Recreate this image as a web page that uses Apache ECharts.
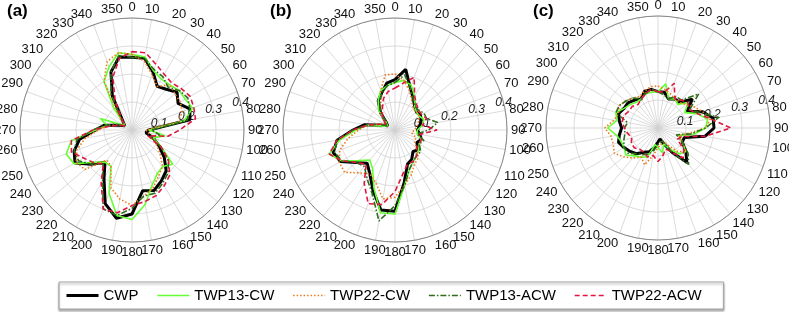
<!DOCTYPE html>
<html>
<head>
<meta charset="utf-8">
<script src="https://cdn.jsdelivr.net/npm/echarts@6/dist/echarts.min.js"></script>
<style>
html, body { margin: 0; padding: 0; background: #fff; }
#main { width: 789px; height: 312px; }
</style>
</head>
<body>
<div id="main"></div>
<script>
// angle ticks (deg, clockwise from north) and radial ticks
var angles = [0, 10, 20, 30, 40, 50, 60, 70, 80, 90, 100, 110, 120, 130, 140, 150, 160, 170,
              180, 190, 200, 210, 220, 230, 240, 250, 260, 270, 280, 290, 300, 310, 320, 330, 340, 350];
var radiusTicks = [0.1, 0.2, 0.3, 0.4];
var seriesNames = ['CWP', 'TWP13-CW', 'TWP22-CW', 'TWP13-ACW', 'TWP22-ACW'];
var panelLabels = ['(a)', '(b)', '(c)'];

// (a)
var cwpA      = [.26, .26, .22, .18, .19, .21, .19, .22, .21, .06, .05, .08, .11, .15, .19, .21, .23, .22,
                 .30, .32, .28, .20, .15, .19, .235, .22, .19, .13, .10, .05, .03, .03, .06, .14, .22, .265];
var twp13cwA  = [.27, .265, .225, .21, .21, .22, .22, .23, .19, .06, .12, .08, .12, .19, .17, .18, .21, .27,
                 .32, .31, .24, .15, .15, .18, .24, .25, .22, .13, .09, .12, .03, .04, .10, .20, .24, .28];
var twp22cwA  = [.27, .25, .21, .18, .21, .20, .20, .19, .17, .05, .06, .07, .10, .13, .17, .19, .22, .24,
                 .27, .25, .22, .15, .14, .22, .23, .21, .17, .12, .09, .05, .03, .04, .08, .20, .26, .28];
var twp13acwA = [.26, .26, .23, .22, .20, .22, .23, .22, .20, .07, .10, .07, .12, .17, .20, .22, .24, .24,
                 .28, .31, .30, .21, .16, .19, .22, .22, .20, .14, .10, .06, .03, .03, .07, .15, .22, .27];
var twp22acwA = [.28, .28, .25, .23, .22, .23, .24, .235, .23, .17, .13, .06, .12, .17, .21, .23, .25, .26,
                 .27, .30, .30, .22, .16, .18, .20, .23, .22, .14, .08, .05, .03, .04, .06, .12, .20, .26];

// (b)
var cwpB      = [.18, .22, .16, .13, .11, .10, .105, .10, .09, .08, .09, .10, .09, .11, .10, .12, .13, .19,
                 .29, .29, .23, .18, .155, .18, .225, .235, .21, .15, .11, .05, .03, .04, .08, .12, .14, .17];
var twp13cwB  = [.17, .18, .17, .14, .11, .10, .10, .11, .10, .08, .08, .10, .10, .11, .12, .13, .15, .20,
                 .30, .30, .22, .16, .14, .17, .22, .25, .20, .14, .10, .04, .03, .04, .09, .12, .15, .16];
var twp22cwB  = [.20, .18, .15, .12, .10, .10, .10, .09, .08, .07, .06, .08, .08, .10, .13, .14, .17, .20,
                 .24, .25, .20, .18, .20, .235, .23, .21, .17, .13, .10, .06, .04, .05, .08, .10, .15, .20];
var twp13acwB = [.17, .20, .16, .13, .11, .11, .12, .12, .155, .12, .08, .11, .10, .12, .12, .13, .15, .20,
                 .27, .33, .24, .20, .17, .18, .22, .23, .21, .15, .10, .06, .03, .04, .08, .11, .14, .16];
var twp22acwB = [.15, .17, .20, .14, .12, .11, .11, .12, .10, .15, .09, .10, .10, .10, .12, .13, .13, .16,
                 .22, .27, .28, .22, .16, .18, .22, .25, .21, .15, .10, .06, .04, .05, .07, .09, .12, .14];

// (c)
var cwpC      = [.13, .13, .11, .12, .12, .16, .12, .17, .20, .20, .17, .10, .10, .13, .16, .10, .06, .04,
                 .04, .07, .09, .10, .12, .13, .14, .15, .14, .13, .14, .15, .14, .14, .13, .12, .14, .14];
var twp13cwC  = [.13, .16, .11, .12, .11, .14, .11, .15, .18, .17, .13, .08, .10, .13, .12, .09, .06, .09,
                 .07, .06, .11, .12, .13, .15, .14, .14, .15, .18, .15, .16, .14, .13, .12, .12, .13, .13];
var twp22cwC  = [.15, .14, .13, .12, .12, .13, .15, .17, .19, .17, .11, .08, .10, .13, .11, .07, .05, .06,
                 .07, .10, .14, .12, .14, .16, .18, .17, .17, .19, .16, .15, .16, .15, .14, .13, .14, .15];
var twp13acwC = [.13, .12, .11, .13, .13, .19, .13, .16, .22, .17, .12, .07, .10, .14, .17, .10, .05, .05,
                 .06, .08, .10, .11, .12, .14, .14, .13, .12, .12, .11, .16, .16, .15, .14, .12, .13, .14];
var twp22acwC = [.13, .13, .17, .12, .13, .14, .13, .15, .19, .26, .17, .09, .08, .12, .14, .10, .08, .10,
                 .12, .10, .11, .10, .10, .11, .11, .10, .11, .12, .13, .13, .12, .12, .11, .12, .13, .14];

var panels = [
    [cwpA, twp13cwA, twp22cwA, twp13acwA, twp22acwA],
    [cwpB, twp13cwB, twp22cwB, twp13acwB, twp22acwB],
    [cwpC, twp13cwC, twp22cwC, twp13acwC, twp22acwC]
];

var font = 'Liberation Sans, Arial, sans-serif';
var centers = [[132, 130], [395, 130], [658, 128]];
var lineStyles = [
    { color: '#000000', width: 3, type: 'solid' },
    { color: '#66ff33', width: 1.6, type: 'solid' },
    { color: '#f07a1a', width: 1.6, type: [1.5, 2] },
    { color: '#2d6e1a', width: 1.6, type: [6, 2, 1.5, 2] },
    { color: '#e0163f', width: 1.6, type: [5, 3] }
];

// [radius, angle] pairs, closed back to the first point
function toPolar(values) {
    var d = [];
    for (var i = 0; i < angles.length; i++) {
        d.push([values[i], angles[i]]);
    }
    d.push([values[0], 360]);
    return d;
}

var polar = [], angleAxis = [], radiusAxis = [], series = [], title = [];
for (var p = 0; p < 3; p++) {
    polar.push({ center: centers[p], radius: 112 });
    angleAxis.push({
        polarIndex: p,
        type: 'value',
        min: 0,
        max: 360,
        interval: 10,
        startAngle: 90,
        clockwise: true,
        axisLine: { lineStyle: { color: '#8a8a8a', width: 1 } },
        axisTick: { show: false },
        axisLabel: { color: '#111', fontSize: 13, margin: 4, fontFamily: font },
        splitLine: { lineStyle: { color: '#d2d2d2', width: 0.8 } }
    });
    radiusAxis.push({
        polarIndex: p,
        type: 'value',
        min: 0,
        max: 0.4,
        interval: 0.1,
        axisLine: { show: false },
        axisTick: { show: false },
        axisLabel: { show: false },
        splitLine: { lineStyle: { color: '#d2d2d2', width: 0.8 } }
    });
    title.push({
        text: panelLabels[p],
        left: centers[p][0] - 125,
        top: 3,
        padding: 0,
        textStyle: { fontSize: 17, fontWeight: 'bold', color: '#000', fontFamily: font }
    });
    for (var s = 0; s < seriesNames.length; s++) {
        series.push({
            name: seriesNames[s],
            type: 'line',
            coordinateSystem: 'polar',
            polarIndex: p,
            symbol: 'none',
            showSymbol: false,
            itemStyle: { color: lineStyles[s].color },
            lineStyle: lineStyles[s],
            data: toPolar(panels[p][s])
        });
    }
}
// extra polars only for the italic radial labels, drawn along ~76 deg
for (var q = 0; q < 3; q++) {
    polar.push({ center: centers[q], radius: 112 });
    angleAxis.push({ polarIndex: q + 3, type: 'value', min: 0, max: 360, startAngle: 14, show: false });
    radiusAxis.push({
        polarIndex: q + 3,
        type: 'value',
        min: 0,
        max: 0.4,
        interval: 0.1,
        axisLine: { show: false },
        axisTick: { show: false },
        splitLine: { show: false },
        axisLabel: {
            fontStyle: 'italic',
            fontSize: 12,
            color: '#222',
            margin: 0,
            align: 'center',
            verticalAlign: 'middle',
            fontFamily: font,
            formatter: function (v) {
                for (var k = 0; k < radiusTicks.length; k++) {
                    if (Math.abs(v - radiusTicks[k]) < 1e-6) return radiusTicks[k].toFixed(1);
                }
                return '';
            }
        }
    });
}

var legendData = [];
for (var j = 0; j < seriesNames.length; j++) {
    legendData.push({ name: seriesNames[j], lineStyle: { width: lineStyles[j].width } });
}

var myChart = echarts.init(document.getElementById('main'));
var option = {
    animation: false,
    backgroundColor: '#fff',
    title: title,
    legend: {
        data: legendData,
        left: 59,
        top: 282,
        itemWidth: 32,
        itemHeight: 12,
        itemGap: 18,
        padding: [6, 22, 6, 6],
        borderColor: '#a0a0a0',
        borderWidth: 1,
        backgroundColor: '#fff',
        shadowColor: 'rgba(0,0,0,0.3)',
        shadowOffsetY: 2,
        shadowBlur: 2,
        itemStyle: { color: 'rgba(0,0,0,0)', borderWidth: 0, opacity: 0 },
        textStyle: { fontSize: 15, color: '#000', fontFamily: font }
    },
    polar: polar,
    angleAxis: angleAxis,
    radiusAxis: radiusAxis,
    series: series
};
myChart.setOption(option);
</script>
</body>
</html>
